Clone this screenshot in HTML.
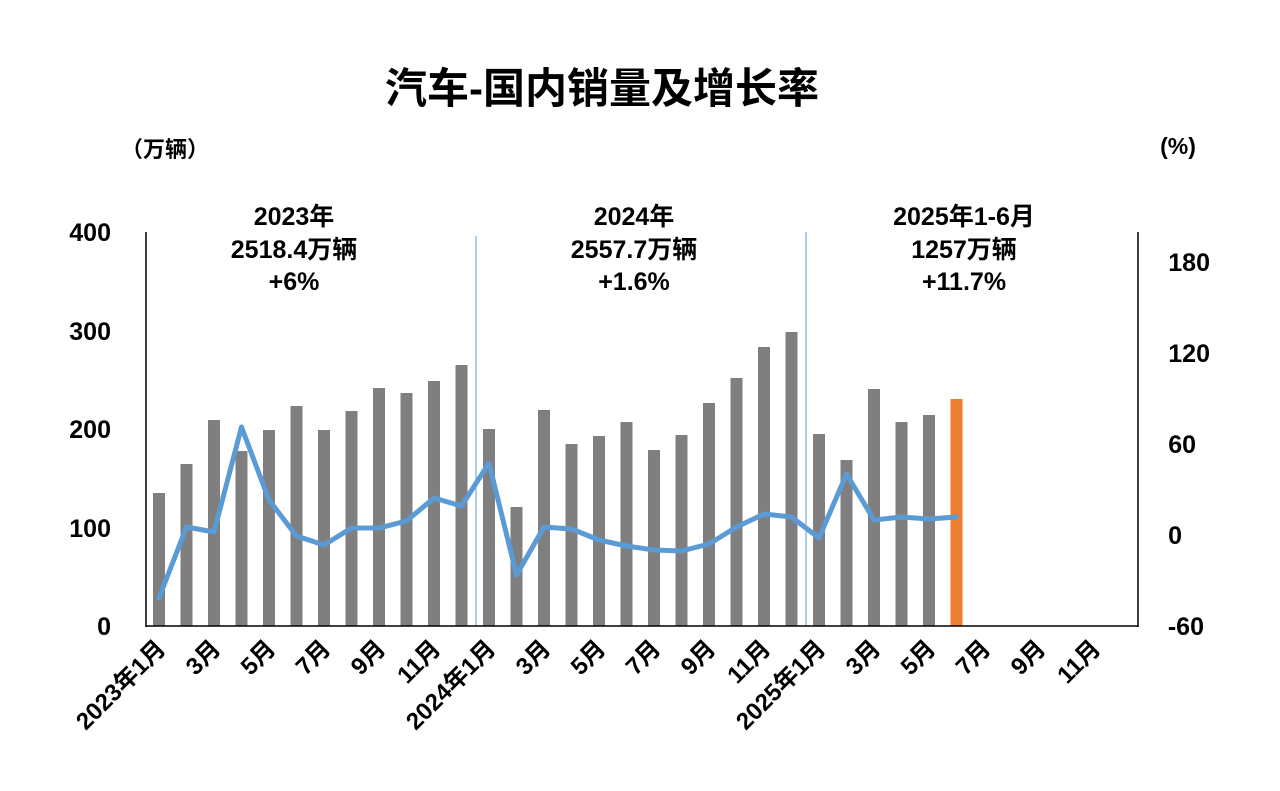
<!DOCTYPE html>
<html><head><meta charset="utf-8"><style>
body{margin:0;background:#fff;}
svg{display:block;font-family:"Liberation Sans","Noto Sans CJK SC",sans-serif;font-weight:bold;}
</style></head><body>
<svg width="1280" height="791" viewBox="0 0 1280 791" xmlns="http://www.w3.org/2000/svg">
<text x="602" y="103" text-anchor="middle" font-size="42" fill="#000">汽车-国内销量及增长率</text>
<text x="165" y="157" text-anchor="middle" font-size="22">（万辆）</text>
<text x="1178" y="154" text-anchor="middle" font-size="23">(%)</text>
<g font-size="25" text-anchor="end">
<text x="111" y="241">400</text><text x="111" y="340">300</text><text x="111" y="438">200</text><text x="111" y="537">100</text><text x="111" y="635">0</text>
</g>
<g font-size="25" text-anchor="end">
<text x="1210" y="271">180</text><text x="1210" y="362">120</text><text x="1196" y="453">60</text><text x="1182" y="544">0</text><text x="1204" y="635">-60</text>
</g>
<g font-size="25" text-anchor="middle">
<text x="294" y="225">2023年</text><text x="294" y="258">2518.4万辆</text><text x="294" y="290">+6%</text>
<text x="634" y="225">2024年</text><text x="634" y="258">2557.7万辆</text><text x="634" y="290">+1.6%</text>
<text x="964" y="225">2025年1-6月</text><text x="964" y="258">1257万辆</text><text x="964" y="290">+11.7%</text>
</g>
<line x1="476" y1="236" x2="476" y2="626" stroke="#5b9bd5" stroke-width="1"/>
<line x1="806" y1="232" x2="806" y2="626" stroke="#5b9bd5" stroke-width="1"/>
<g fill="#7f7f7f" id="bars"></g>
<line x1="146" y1="232" x2="146" y2="627" stroke="#000" stroke-width="1.5"/>
<line x1="1138" y1="232" x2="1138" y2="627" stroke="#000" stroke-width="1.5"/>
<line x1="146" y1="626" x2="1138" y2="626" stroke="#000" stroke-width="1.5"/>
<g id="line"></g>
<g id="xl" font-size="24"></g>
</svg>
<script>
var tops=[493,464,420,451,430,406,430,411,388,393,381,365,429,507,410,444,436,422,450,435,403,378,347,332,434,460,389,422,415,399];
var ly=[598,527,532,427,500,536,545,528,528,521,498,506,463,575,527,529,540,546,550,551,544,527,514,517,538,474,520,517,519,517];
var ns="http://www.w3.org/2000/svg",b=document.getElementById("bars"),pts=[];
for(var i=0;i<tops.length;i++){var cx=159+i*27.5;var r=document.createElementNS(ns,"rect");
r.setAttribute("x",cx-6);r.setAttribute("y",tops[i]);r.setAttribute("width",12);r.setAttribute("height",626-tops[i]);
if(i==29)r.setAttribute("fill","#ed7d31");b.appendChild(r);pts.push(cx+","+ly[i]);}
var p=document.createElementNS(ns,"polyline");p.setAttribute("points",pts.join(" "));p.setAttribute("fill","none");
p.setAttribute("stroke","#5b9bd5");p.setAttribute("stroke-width","5");p.setAttribute("stroke-linejoin","round");p.setAttribute("stroke-linecap","round");
document.getElementById("line").appendChild(p);
var xl=document.getElementById("xl");
for(var k=0;k<36;k+=2){var m=k%12+1;var lab=m==1?(2023+k/12)+"年1月":m+"月";var x=167+k*27.5;
var t=document.createElementNS(ns,"text");t.setAttribute("text-anchor","end");t.setAttribute("transform","translate("+x+",650) rotate(-45)");t.textContent=lab;xl.appendChild(t);}
</script>
</body></html>
